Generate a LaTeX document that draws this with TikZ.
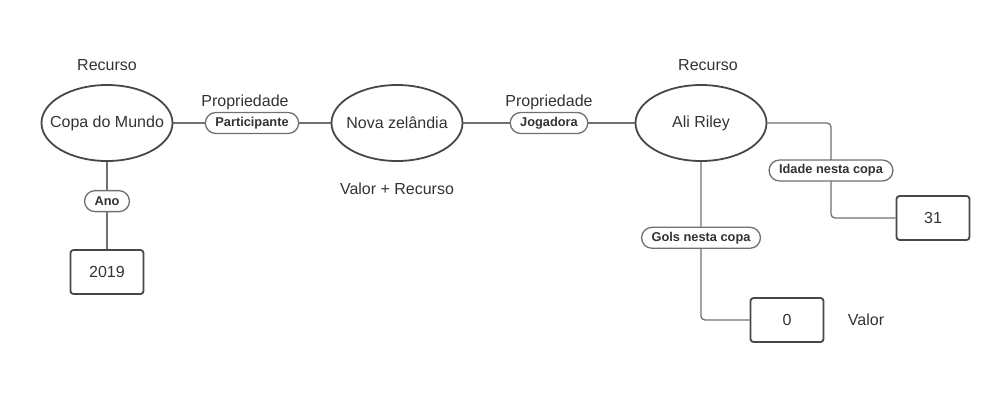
\documentclass[tikz,border=0pt]{standalone}
\usepackage{fontspec}
\setmainfont{Liberation Sans}
\usetikzlibrary{positioning, shapes.geometric}

\definecolor{linegray}{HTML}{707070}
\definecolor{boxgray}{HTML}{474747}
\definecolor{txt}{HTML}{333333}

\begin{document}
\begin{tikzpicture}[x=1pt, y=-1pt, on grid,
res/.style ={ellipse, draw=boxgray, line width=1.8pt, inner sep=0pt, minimum width=131pt, minimum height=76pt, text=txt, font=\fontsize{16}{19}\selectfont},
val/.style ={rectangle, rounded corners=3pt, draw=boxgray, line width=1.8pt, minimum width=73pt, minimum height=44pt, text=txt, font=\fontsize{16}{19}\selectfont},
prop/.style={rectangle, rounded corners=10.5pt, draw=linegray, line width=1.3pt, fill=white, minimum height=21pt, inner xsep=10pt, inner ysep=0pt, text=txt, font=\fontsize{12.8}{15}\selectfont\bfseries},
lbl/.style ={text=txt, font=\fontsize{16}{19}\selectfont},
link/.style={draw=linegray, line width=1.3pt}]
\useasboundingbox (0,0) rectangle (992,407);
\node[res, label = {[lbl, label distance=10pt]above:Recurso}] (copa) at (107,123) {\makebox[0pt]{Copa do Mundo}};
\node[res, label = {[lbl, label distance=17pt]below:Valor + Recurso}] (nova) [right = 290pt of copa] {\makebox[0pt]{Nova zelândia}};
\node[res, label = {[lbl, label distance=10pt, xshift=7pt]above:Recurso}] (ali) [right = 304pt of nova] {\makebox[0pt]{Ali Riley}};
\node[val] (ano) [below = 149pt of copa] {2019};
\node[val, label = {[lbl, label distance=20pt]right:Valor}] (gols) [below right = 197pt and 86pt of ali] {0};
\node[val] (idade) [below right = 95pt and 232pt of ali] {31};
\coordinate[right = 130pt of ali] (dobra);
\path[link] (copa) edge node[prop, label = {[lbl, label distance=-2pt, xshift=-7pt]above:Propriedade}] {Participante} (nova)
	  (nova) edge node[prop, label = {[lbl, label distance=-2pt]above:Propriedade}] {Jogadora} (ali)
	  (copa) edge node[prop, pos=0.45] {Ano} (ano);
\draw[link, rounded corners=4pt] (ali) |- node[prop, pos=0.24] {Gols nesta copa} (gols);
\draw[link, rounded corners=4pt] (ali) -- (dobra) |- node[prop, pos=0.25] {Idade nesta copa} (idade);
\end{tikzpicture}
\end{document}
